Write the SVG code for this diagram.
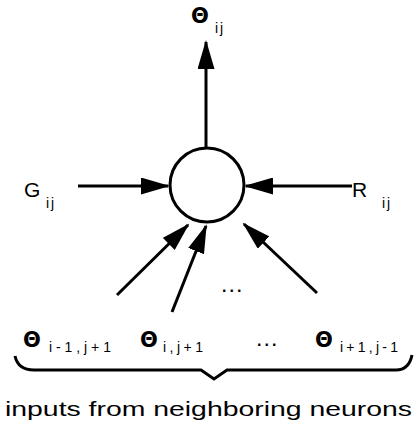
<svg xmlns="http://www.w3.org/2000/svg" width="415" height="426" viewBox="0 0 415 426">
<style>
.ln{stroke:#000;stroke-width:3;fill:none}
.t{font-family:"Liberation Sans",Arial,sans-serif;fill:#000}
.th{font-family:"DejaVu Sans",sans-serif;font-weight:bold;fill:#000}
.sub{font-family:"Liberation Sans",Arial,sans-serif;fill:#000;font-size:14px;letter-spacing:2px}
.dots{font-family:"Liberation Sans",Arial,sans-serif;font-weight:bold;fill:#000;font-size:16px;letter-spacing:3px}
</style>
<defs>
<marker id="ah" markerUnits="userSpaceOnUse" markerWidth="29" markerHeight="17" viewBox="0 0 29 17" refX="27" refY="8.5" orient="auto">
<path d="M0,0 L29,8.5 L0,17 z" fill="#000"/>
</marker>
</defs>
<rect width="415" height="426" fill="#fff"/>
<g id="neuron">
<circle cx="207" cy="185" r="37" fill="#fff" stroke="#000" stroke-width="3"/>
</g>
<g id="connectors">
<line class="ln" x1="206" y1="148" x2="206" y2="42" marker-end="url(#ah)"/>
<line class="ln" x1="78" y1="186" x2="168" y2="186" marker-end="url(#ah)"/>
<line class="ln" x1="352" y1="186" x2="246" y2="186" marker-end="url(#ah)"/>
<line class="ln" x1="117" y1="295" x2="188" y2="225" marker-end="url(#ah)"/>
<line class="ln" x1="172" y1="312" x2="206" y2="226" marker-end="url(#ah)"/>
<line class="ln" x1="317" y1="293" x2="244" y2="224" marker-end="url(#ah)"/>
</g>
<g id="out-label">
<text class="th" x="191" y="23" font-size="21">Θ</text>
<text class="sub" x="215" y="33">ij</text>
</g>
<g id="g-label">
<text class="t" x="24" y="197" font-size="21">G</text>
<text class="sub" x="46" y="208">ij</text>
</g>
<g id="r-label">
<text class="t" x="352" y="197" font-size="21">R</text>
<text class="sub" x="382" y="208">ij</text>
</g>
<text class="dots" x="222" y="292">...</text>
<g id="inputs">
<text class="th" x="23" y="347" font-size="21">Θ</text>
<text class="sub" x="49" y="352" textLength="64">i-1,j+1</text>
<text class="th" x="140" y="347" font-size="21">Θ</text>
<text class="sub" x="163" y="352" textLength="42">i,j+1</text>
<text class="dots" x="257" y="346" font-size="14">...</text>
<text class="th" x="315" y="347" font-size="21">Θ</text>
<text class="sub" x="340" y="352" textLength="60">i+1,j-1</text>
</g>
<g id="brace">
<path class="ln" stroke-width="2.5" d="M15,356 Q18,370 34,370 L201,370 L214,379 L227,370 L396,370 Q409,370 412,355"/>
</g>
<text class="t" x="5" y="416" font-size="20" textLength="407" lengthAdjust="spacingAndGlyphs">inputs from neighboring neurons</text>
</svg>
